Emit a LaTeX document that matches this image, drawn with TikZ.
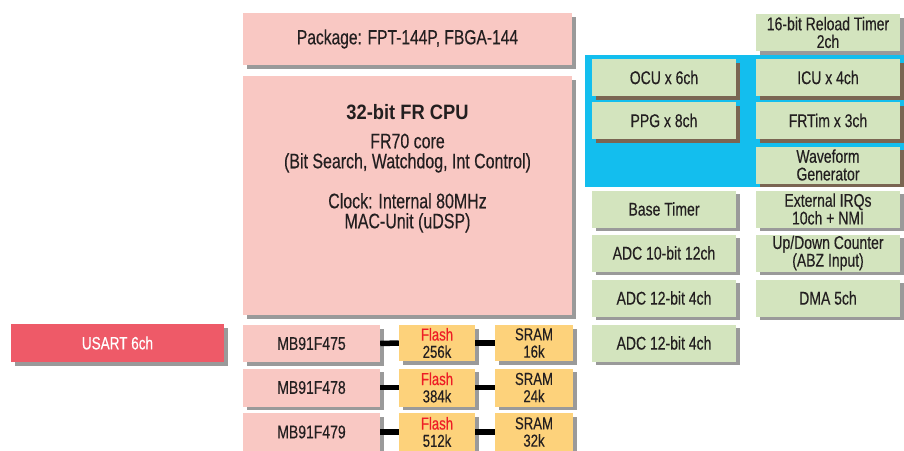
\documentclass[tikz,border=0pt]{standalone}
\usepackage{fontspec}
\setmainfont[FakeStretch=0.76,FakeBold=0.35]{Liberation Sans}
\newfontfamily\boldwide[FakeStretch=0.88]{Liberation Sans Bold}
\usetikzlibrary{shadows}
\definecolor{pinkbox}{HTML}{F9C8C3}
\definecolor{greenbox}{HTML}{D3E4BE}
\definecolor{yellowbox}{HTML}{FDD27B}
\definecolor{bluebg}{HTML}{13BEEE}
\definecolor{usartred}{HTML}{EE5A68}
\definecolor{flashred}{HTML}{EE1C25}
\definecolor{txt}{HTML}{231F20}
\definecolor{shgray}{HTML}{9A9A9A}
\definecolor{shbrown}{HTML}{7A6552}
\begin{document}
\begin{tikzpicture}[x=1pt,y=-1pt,
  base/.style={rectangle, inner sep=0pt, align=center, text=txt,
    font=\fontsize{18.4}{17.7}\selectfont},
  sz/.style 2 args={minimum width=#1, minimum height=#2},
  gshadow/.style={drop shadow={shadow xshift=3.5pt, shadow yshift=-3.5pt, fill=shgray, opacity=1}},
  bshadow/.style={drop shadow={shadow xshift=3.5pt, shadow yshift=-3.5pt, fill=shbrown, opacity=1}},
  pk/.style={base, fill=pinkbox, gshadow},
  gr/.style={base, fill=greenbox, gshadow, sz={144pt}{37pt}},
  grb/.style={base, fill=greenbox, bshadow, sz={144pt}{37pt}},
  ye/.style={base, fill=yellowbox, gshadow, font=\fontsize{17.3}{17.3}\selectfont},
  conn/.style={line width=5.5pt, black}
]
\useasboundingbox (0,0) rectangle (904,450);
\fill[white] (0,0) rectangle (904,450);
% blue timer region
\fill[bluebg] (585,55) rectangle (904,187);

% CPU side
\node[pk, sz={329pt}{52pt}, font=\fontsize{20.5}{20}\selectfont] (pkg) at (407.5,39) {Package: FPT-144P, FBGA-144};
\node[pk, sz={329pt}{239pt}] (cpu) at (407.5,195.5) {};
\node[base, anchor=north, font=\fontsize{21}{20}\selectfont] (cputxt) at (407.5,104)
  {{\boldwide\fontsize{20.8}{20}\selectfont 32-bit FR CPU}\\[9pt]
   FR70 core\\(Bit Search, Watchdog, Int Control)\\[20pt]
   Clock: Internal 80MHz\\MAC-Unit (uDSP)};

% peripherals, right column
\node[gr] (reload) at (828,32.5) {16-bit Reload Timer\\2ch};
\node[grb] (icu) at (828,77.5) {ICU x 4ch};
\node[grb] (frt) at (828,120.5) {FRTim x 3ch};
\node[grb] (wave) at (828,165) {Waveform\\Generator};
\node[gr] (extirq) at (828,209) {External IRQs\\10ch + NMI};
\node[gr] (updown) at (828,253) {Up/Down Counter\\(ABZ Input)};
\node[gr] (dma) at (828,298) {DMA 5ch};

% peripherals, left column
\node[grb] (ocu) at (664,77.5) {OCU x 6ch};
\node[grb] (ppg) at (664,120.5) {PPG x 8ch};
\node[gr] (basetim) at (664,209) {Base Timer};
\node[gr] (adc10) at (664,253) {ADC 10-bit 12ch};
\node[gr] (adc12a) at (664,298) {ADC 12-bit 4ch};
\node[gr] (adc12b) at (664,343) {ADC 12-bit 4ch};

% USART
\node[base, fill=usartred, gshadow, sz={213pt}{38pt}, text=white, font=\fontsize{17.8}{17}\selectfont] (usart) at (117.5,343) {USART 6ch};

% device variants
\node[pk, sz={137pt}{37pt}] (mb1) at (311.5,343.5) {MB91F475};
\node[pk, sz={137pt}{38pt}] (mb2) at (311.5,387.5) {MB91F478};
\node[pk, sz={137pt}{38pt}] (mb3) at (311.5,432) {MB91F479};

\node[ye, sz={76pt}{36pt}] (fl1) at (437,343) {\textcolor{flashred}{Flash}\\256k};
\node[ye, sz={76pt}{38pt}] (fl2) at (437,387.5) {\textcolor{flashred}{Flash}\\384k};
\node[ye, sz={76pt}{38pt}] (fl3) at (437,432) {\textcolor{flashred}{Flash}\\512k};

\node[ye, sz={78pt}{36pt}] (sr1) at (534,343) {SRAM\\16k};
\node[ye, sz={78pt}{38pt}] (sr2) at (534,387.5) {SRAM\\24k};
\node[ye, sz={78pt}{38pt}] (sr3) at (534,432) {SRAM\\32k};

% connectors
\draw[conn] (mb1.east) -- (fl1.west);
\draw[conn] (fl1.east) -- (sr1.west);
\draw[conn] (mb2.east) -- (fl2.west);
\draw[conn] (fl2.east) -- (sr2.west);
\draw[conn] (mb3.east) -- (fl3.west);
\draw[conn] (fl3.east) -- (sr3.west);
\end{tikzpicture}
\end{document}
